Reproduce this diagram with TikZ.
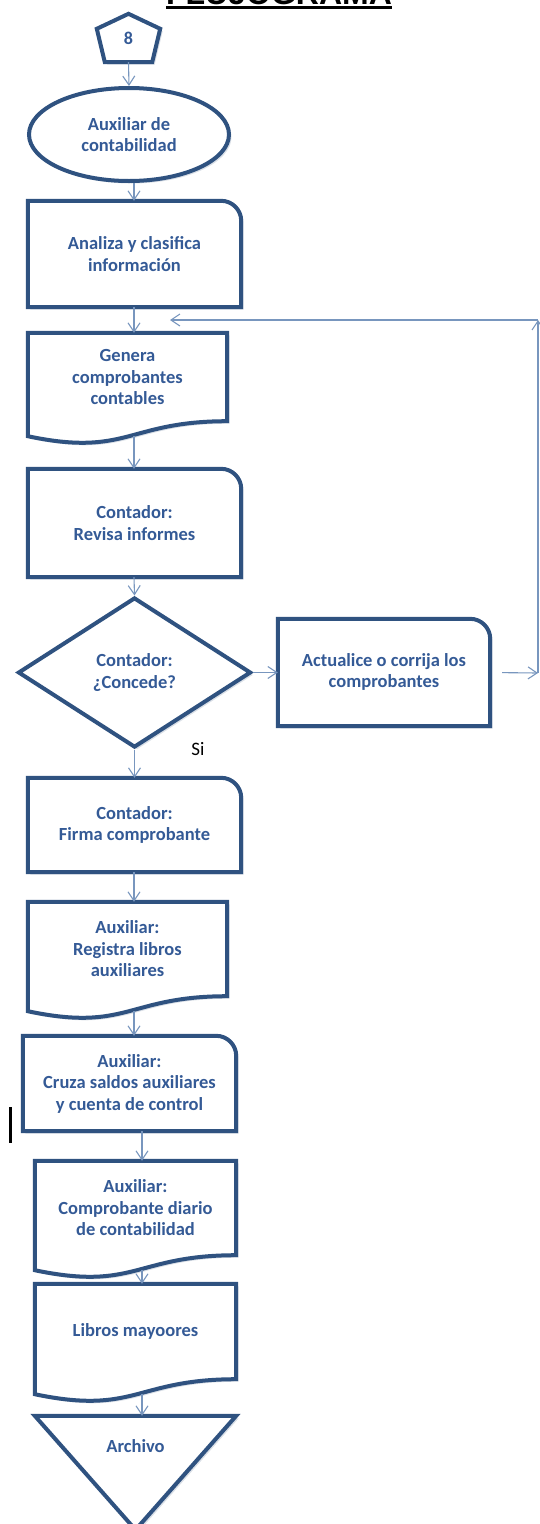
\documentclass[tikz,border=0pt]{standalone}
\usepackage{fontspec}
\setmainfont{Carlito}
\newfontfamily\titlefont{Liberation Sans}
\usetikzlibrary{shapes.geometric,arrows.meta,calc,shadows}
\definecolor{bord}{RGB}{47,82,128}
\definecolor{txtc}{RGB}{52,90,150}
\definecolor{arrc}{RGB}{120,150,190}
\definecolor{shad}{RGB}{150,165,185}
\pgfdeclarelayer{background}
\pgfsetlayers{background,main}
\tikzset{
  lbl/.style={font=\bfseries\fontsize{18.5}{21.5}\selectfont, text=txtc, align=center, inner sep=0pt},
  boxn/.style={lbl, rectangle, draw=none},
  outl/.style={draw=bord, line width=4pt, fill=white,
    drop shadow={shadow xshift=2.5pt, shadow yshift=-2.5pt, opacity=0.35, fill=shad}},
  arr/.style={draw=arrc, line width=1.1pt, -{Straight Barb[length=9pt,width=12pt]}},
}
\begin{document}
\begin{tikzpicture}[x=1pt,y=-1pt]
\useasboundingbox (0,0) rectangle (540,1524);
\coordinate (axis) at (134,0);
\coordinate (axis2) at (142,0);
% title
\node[font=\titlefont\bfseries\fontsize{32}{38}\selectfont, anchor=base, inner sep=0pt] (title) at (279,4) {FLUJOGRAMA};
\draw[line width=3pt] ([yshift=-3pt]title.base west) -- ([yshift=-3pt]title.base east);
% nodes
\node[boxn, minimum width=63pt, minimum height=48pt, font=\bfseries\fontsize{18}{20}\selectfont] (pent) at (128.5,38) {\raisebox{-6pt}{8}};
\node[lbl, ellipse, outl, minimum width=200pt, minimum height=93pt] (ell) at (129,134.5) {Auxiliar de\\contabilidad};
\node[boxn, minimum width=213pt, minimum height=106pt] (a1) at (134.5,254) {Analiza y clasifica\\información};
\node[boxn, minimum width=199pt, minimum height=88pt] (a2) at (127.5,377) {Genera\\comprobantes\\contables};
\node[boxn, minimum width=213pt, minimum height=108pt] (a3) at (134.5,523) {Contador:\\Revisa informes};
\node[lbl, diamond, outl, minimum width=233pt, minimum height=150pt] (dia) at (134.5,672.5) {Contador:\\¿Concede?};
\node[boxn, minimum width=212pt, minimum height=107pt] (act) at (384,672.5) {\raisebox{-11pt}{\begin{tabular}{@{}c@{}}Actualice o corrija los\\comprobantes\end{tabular}}};
\node[font=\fontsize{19}{22}\selectfont, text=black, inner sep=0pt] (si) at (198,749) {Si};
\node[boxn, minimum width=213pt, minimum height=94pt] (a4) at (134.5,825) {Contador:\\Firma comprobante};
\node[boxn, minimum width=199pt, minimum height=94pt] (a5) at (127.5,949) {Auxiliar:\\Registra libros\\auxiliares};
\node[boxn, minimum width=213pt, minimum height=95pt] (a6) at (129.5,1083.5) {Auxiliar:\\Cruza saldos auxiliares\\y cuenta de control};
\node[boxn, minimum width=201pt, minimum height=94pt] (a7) at (135.5,1208) {Auxiliar:\\Comprobante diario\\de contabilidad};
\node[boxn, minimum width=201pt, minimum height=95pt] (a8) at (135.5,1331.5) {Libros mayoores};
\node[boxn, minimum width=201pt, minimum height=60pt] (arch) at (135.5,1446) {Archivo};
% outlines
\begin{pgfonlayer}{background}
\foreach \n in {a1,a3,act,a4,a6} {
  \draw[outl] (\n.south west) -- (\n.north west) -- ([xshift=-20pt]\n.north east) .. controls ([xshift=-9pt]\n.north east) and ([yshift=-9pt]\n.north east) .. ([yshift=-20pt]\n.north east) -- (\n.south east) -- cycle;
}
\foreach \n in {a2,a5,a7,a8} {
  \draw[outl] (\n.north west) -- (\n.north east) -- (\n.south east) .. controls (\n.south) and ($(\n.south)+(0,36)$) .. ($(\n.south west)+(0,15)$) -- cycle;
}
\draw[outl] (pent.north) -- ($(pent.north west)+(0,15)$) -- ($(pent.south west)+(8,0)$) -- ($(pent.south east)+(-8,0)$) -- ($(pent.north east)+(0,15)$) -- cycle;
\draw[outl] (arch.north west) -- (arch.north east) -- ($(arch.north)+(0,114)$) -- cycle;
\end{pgfonlayer}
% stray cursor bar
\draw[line width=3pt] (10,1107) -- (10,1143);
% connectors
\coordinate (c1) at (538,673);
\coordinate (c2) at (538,320);
\coordinate (c3) at (170,320);
\draw[arr] (pent.south) -- (ell.north);
\draw[arr] (ell.south -| axis) -- (a1.north -| axis);
\draw[arr] (a1.south -| axis) -- (a2.north -| axis);
\draw[arr] ($(a2.south -| axis)+(0,15)$) -- (a3.north -| axis);
\draw[arr] (a3.south -| axis) -- (dia.north);
\draw[arr] (dia.east) -- (act.west);
\draw[arr] (dia.south) -- (a4.north -| dia.south);
\draw[arr] (a4.south -| axis) -- (a5.north -| axis);
\draw[arr] ($(a5.south -| axis)+(0,15)$) -- (a6.north -| axis);
\draw[arr] (a6.south -| axis2) -- (a7.north -| axis2);
\draw[arr] ($(a7.south -| axis2)+(0,15)$) -- (a8.north -| axis2);
\draw[arr] ($(a8.south -| axis2)+(0,15)$) -- (arch.north -| axis2);
\draw[arr, shorten <=12pt] (act.east) -- (c1);
\draw[arr] (c1) -- (c2);
\draw[arr] (c2) -- (c3);
\end{tikzpicture}
\end{document}
